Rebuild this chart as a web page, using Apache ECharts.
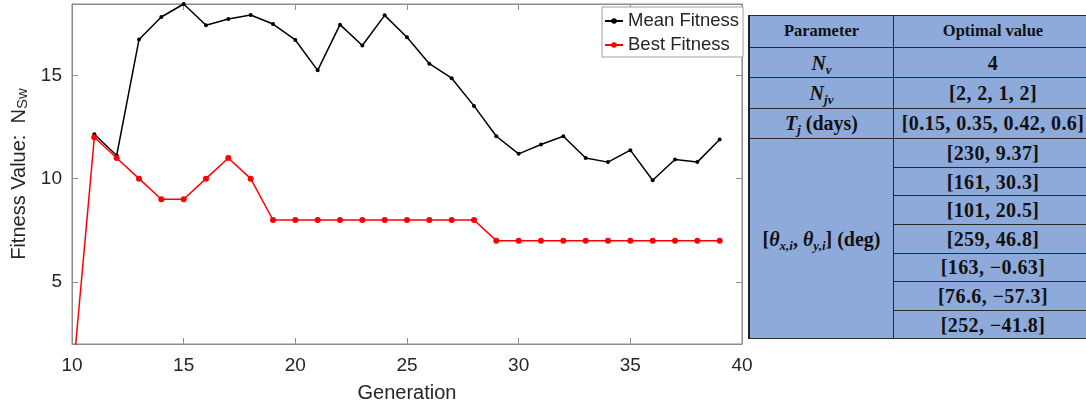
<!DOCTYPE html>
<html>
<head>
<meta charset="utf-8">
<script src="https://cdn.jsdelivr.net/npm/echarts@6/dist/echarts.min.js"></script>
<style>
  html, body { margin: 0; padding: 0; background: #fff; }
  #wrap { position: relative; width: 1086px; height: 408px; overflow: hidden; }
  #chart { position: absolute; left: 0; top: 0; width: 760px; height: 408px; }
  #tbl {
    position: absolute; left: 748px; top: 15px; width: 345px;
    border-collapse: collapse; background: #8eaadb;
    font-family: "Liberation Serif", "DejaVu Serif", serif; font-weight: bold;
    color: #111; font-size: 20px; letter-spacing: 0.4px;
  }
  #tbl td { border: 1px solid #2a2a2a; text-align: center; padding: 0; line-height: 1; }
  #tbl tr { height: 28.6px; }
  #tbl tr.hd { height: 32px; }
  #tbl tr.top { height: 30.4px; }
  #tbl td.c1 { width: 143px; border-left: 2px solid #222; letter-spacing: 0; }
  #tbl .hdtxt { font-size: 16.5px; letter-spacing: 0; }
  #tbl sub { font-size: 13px; vertical-align: -4px; line-height: 0; }
</style>
</head>
<body>
<div id="wrap">
  <div id="chart"></div>
  <table id="tbl"></table>
</div>
<script>
const generation = [10, 11, 12, 13, 14, 15, 16, 17, 18, 19, 20, 21, 22, 23, 24,
  25, 26, 27, 28, 29, 30, 31, 32, 33, 34, 35, 36, 37, 38, 39]
const meanFitness = [null, 12.15, 11.12, 16.73, 17.82, 18.45, 17.42, 17.72, 17.92, 17.48,
  16.71, 15.24, 17.45, 16.44, 17.9, 16.84, 15.56, 14.86, 13.52, 12.05,
  11.2, 11.65, 12.05, 11.0, 10.8, 11.38, 9.92, 10.93, 10.8, 11.89]
const bestFitness = [0, 12, 11, 10, 9, 9, 10, 11, 10, 8,
  8, 8, 8, 8, 8, 8, 8, 8, 8, 7,
  7, 7, 7, 7, 7, 7, 7, 7, 7, 7]
const yTicks = [5, 10, 15]

// table contents
const tableHeader = ['Parameter', 'Optimal value']
const nvValue = '4'
const njvValue = '[2, 2, 1, 2]'
const tjValue = '[0.15, 0.35, 0.42, 0.6]'
const thetaValues = ['[230, 9.37]', '[161, 30.3]', '[101, 20.5]', '[259, 46.8]',
  '[163, \u22120.63]', '[76.6, \u221257.3]', '[252, \u221241.8]']

function buildTable() {
  let html = '<tr class="hd"><td class="c1 hdtxt">' + tableHeader[0] + '</td><td class="hdtxt">' + tableHeader[1] + '</td></tr>'
  html += '<tr class="top"><td class="c1"><i>N</i><sub><i>v</i></sub></td><td>' + nvValue + '</td></tr>'
  html += '<tr class="top"><td class="c1"><i>N</i><sub><i>jv</i></sub></td><td>' + njvValue + '</td></tr>'
  html += '<tr class="top"><td class="c1"><i>T</i><sub><i>j</i></sub> (days)</td><td>' + tjValue + '</td></tr>'
  thetaValues.forEach((v, i) => {
    html += '<tr>'
    if (i === 0) {
      html += '<td class="c1" rowspan="' + thetaValues.length + '">[<i>\u03b8</i><sub><i>x,i</i></sub>, <i>\u03b8</i><sub><i>y,i</i></sub>] (deg)</td>'
    }
    html += '<td>' + v + '</td></tr>'
  })
  document.getElementById('tbl').innerHTML = html
}
buildTable()

const axisCol = '#8c8c8c'
const textCol = '#262626'
const font = 'Liberation Sans'

let chart = echarts.init(document.getElementById('chart'))
chart.setOption({
  animation: false,
  textStyle: { fontFamily: font },
  grid: { left: 72, top: 4, right: 18, bottom: 62, show: true, borderColor: axisCol, borderWidth: 1 },
  legend: {
    orient: 'vertical', left: 602, top: 7,
    padding: [4, 4, 2, 2],
    backgroundColor: '#fff', borderColor: '#a0a0a0', borderWidth: 1,
    itemWidth: 18, itemHeight: 7, itemGap: 4, itemTextGap: 1,
    textStyle: { fontSize: 18.5, lineHeight: 20, color: textCol, fontFamily: font },
    data: ['Mean Fitness', 'Best Fitness']
  },
  xAxis: [{
    type: 'value', min: 10, max: 40, interval: 5,
    name: 'Generation', nameLocation: 'middle', nameGap: 39,
    nameTextStyle: { fontSize: 20, color: textCol },
    axisLine: { show: true, lineStyle: { color: axisCol } },
    axisTick: { inside: true, length: 6, lineStyle: { color: axisCol } },
    axisLabel: { fontSize: 19, color: textCol, margin: 12 },
    splitLine: { show: false }
  }, {
    type: 'value', min: 10, max: 40, interval: 5, position: 'top',
    axisLine: { show: true, lineStyle: { color: axisCol } },
    axisTick: { inside: true, length: 6, lineStyle: { color: axisCol } },
    axisLabel: { show: false }, splitLine: { show: false }
  }],
  yAxis: [{
    type: 'value', min: 2, max: 18.45,
    name: 'Fitness Value:  N{s|Sw}', nameLocation: 'middle', nameGap: 40,
    nameTextStyle: { fontSize: 20, color: textCol, rich: { s: { fontSize: 15, color: textCol, verticalAlign: 'bottom' } } },
    axisLine: { show: true, lineStyle: { color: axisCol } },
    axisTick: { inside: true, length: 6, customValues: yTicks, lineStyle: { color: axisCol } },
    axisLabel: { fontSize: 19, color: textCol, margin: 10, customValues: yTicks },
    splitLine: { show: false }
  }, {
    type: 'value', min: 2, max: 18.45, position: 'right',
    axisLine: { show: true, lineStyle: { color: axisCol } },
    axisTick: { inside: true, length: 6, customValues: yTicks, lineStyle: { color: axisCol } },
    axisLabel: { show: false }, splitLine: { show: false }
  }],
  series: [{
    name: 'Mean Fitness', type: 'line',
    data: generation.map((g, i) => [g, meanFitness[i]]),
    symbol: 'circle', symbolSize: 4,
    itemStyle: { color: '#000' },
    lineStyle: { color: '#000', width: 1.5 }
  }, {
    name: 'Best Fitness', type: 'line',
    data: generation.map((g, i) => [g, bestFitness[i]]),
    symbol: 'circle', symbolSize: 6,
    itemStyle: { color: '#ff0000' },
    lineStyle: { color: '#ff0000', width: 1.5 }
  }]
})
</script>
</body>
</html>
